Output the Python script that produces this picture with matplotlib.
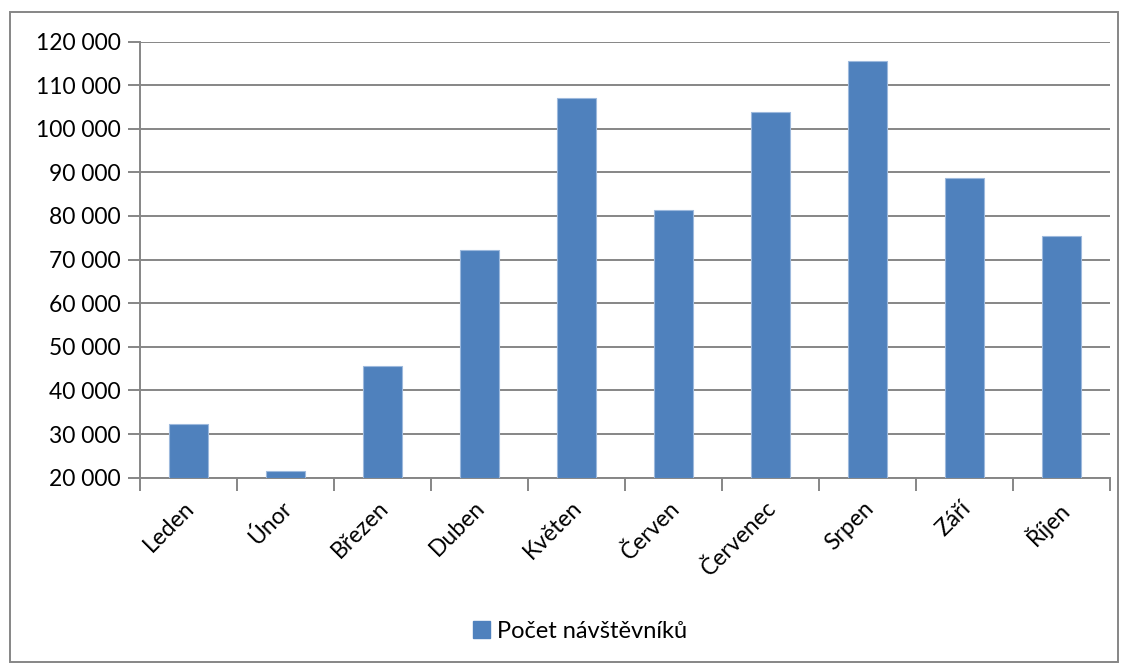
import matplotlib
matplotlib.use("Agg")
import matplotlib.pyplot as plt
import matplotlib.transforms as mtrans
from matplotlib.patches import Rectangle
from matplotlib.ticker import FuncFormatter, FixedLocator, NullFormatter

plt.rcParams['font.family'] = ['Lato', 'DejaVu Sans']

months = ["Leden", "Únor", "Březen", "Duben", "Květen", "Červen",
          "Červenec", "Srpen", "Září", "Říjen"]
visitors = [32300, 21500, 45500, 72200, 107000, 81400, 103800, 115500, 88600, 75400]
series_name = "Počet návštěvníků"
y_ticks = [20000, 30000, 40000, 50000, 60000, 70000, 80000, 90000, 100000, 110000, 120000]

W, H = 1126, 666
fig = plt.figure(figsize=(W / 100, H / 100), dpi=100)
ax = fig.add_axes([140 / W, 1 - 477.7 / H, (1110 - 140) / W, (477.7 - 41.5) / H])

grid_c = "#868686"
bar_c = "#4F81BD"
fs = 16.5

x = list(range(len(months)))
ax.bar(x, [v - 20000 for v in visitors], bottom=20000, width=0.4, color=bar_c,
       edgecolor="#9DB9DD", linewidth=0.8, zorder=3)

ax.set_xlim(-0.5, len(months) - 0.5)
ax.set_ylim(20000, 120000)
ax.set_yticks(y_ticks)
ax.yaxis.set_major_formatter(FuncFormatter(lambda v, p: f"{int(v):,}".replace(",", " ")))
ax.yaxis.grid(True, color=grid_c, linewidth=1.4, zorder=0)

# category labels at centers, ticks at boundaries
ax.set_xticks(x)
ax.set_xticklabels(months, rotation=45, ha="right", rotation_mode="anchor")
ax.tick_params(axis="x", which="major", length=0, pad=14, labelsize=fs, colors="black")
offset = mtrans.ScaledTranslation(-5 / 100, 0, fig.dpi_scale_trans)
for lab in ax.get_xticklabels():
    lab.set_transform(lab.get_transform() + offset)
ax.xaxis.set_minor_locator(FixedLocator([i - 0.5 for i in range(len(months) + 1)]))
ax.xaxis.set_minor_formatter(NullFormatter())
ax.tick_params(axis="x", which="minor", length=9, width=1.4, color=grid_c)
ax.tick_params(axis="y", length=9, width=1.4, color=grid_c, labelsize=fs, pad=5)

for s in ["top", "right"]:
    ax.spines[s].set_visible(False)
for s in ["left", "bottom"]:
    ax.spines[s].set_color(grid_c)
    ax.spines[s].set_linewidth(1.4)

# legend
leg = fig.legend([Rectangle((0, 0), 1, 1, color=bar_c)], [series_name],
                 loc="center", bbox_to_anchor=(580 / W, 1 - 631 / H), frameon=False,
                 fontsize=17, handlelength=0.75, handleheight=0.75, handletextpad=0.3)

# outer chart border
fig.patches.append(Rectangle((10 / W, 1 - 662 / H), (1118 - 10) / W, (662 - 12) / H,
                             transform=fig.transFigure, fill=False,
                             edgecolor=grid_c, linewidth=1.4))

fig.savefig("out.png", dpi=100)
